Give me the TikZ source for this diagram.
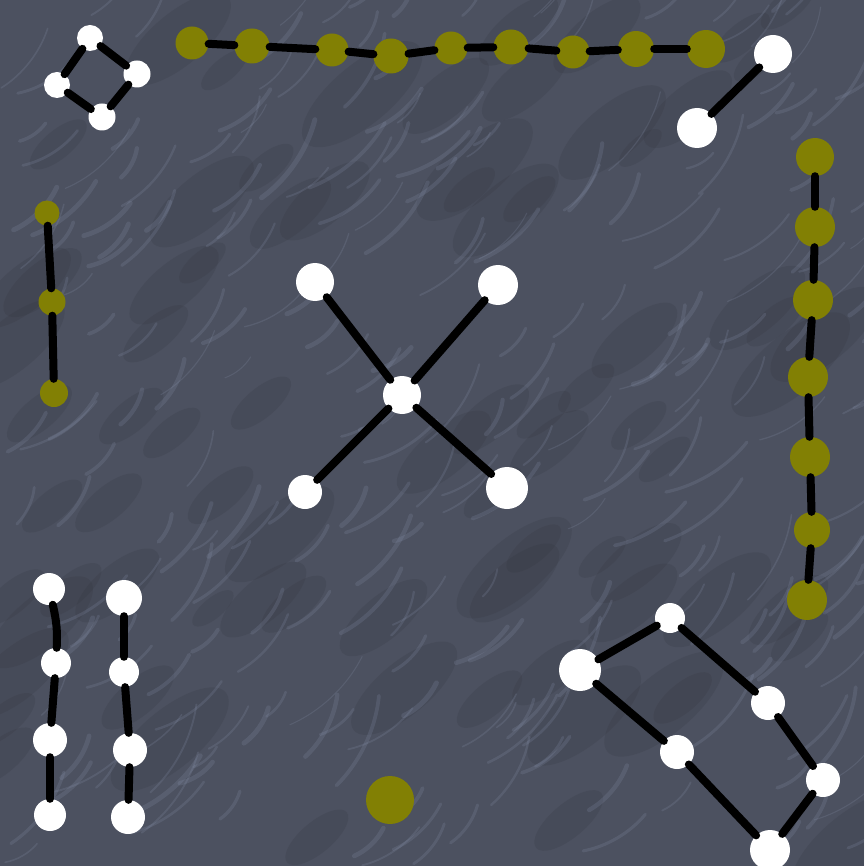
\documentclass[tikz,border=0pt]{standalone}
\definecolor{slate}{RGB}{76,81,96}
\definecolor{streak}{RGB}{155,167,195}
\definecolor{darkpatch}{RGB}{48,50,58}
\definecolor{olivenode}{RGB}{130,128,4}
\tikzset{
  wn/.style={circle,fill=white,inner sep=0pt,minimum size=#1},
  yn/.style={circle,fill=olivenode,inner sep=0pt,minimum size=#1},
  edge/.style={line width=8pt,black,line cap=round}
}
\begin{document}
\begin{tikzpicture}[x=1pt,y=-1pt]
\useasboundingbox (0,0) rectangle (864,866);
\begin{scope}
\clip (0,0) rectangle (864,866);
\fill[slate] (0,0) rectangle (864,866);
\pgfmathsetseed{11}
\foreach \i in {1,...,80}{
  \pgfmathsetmacro{\xa}{864*rnd}
  \pgfmathsetmacro{\ya}{866*rnd}
  \pgfmathsetmacro{\rr}{25+50*rnd}
  \fill[darkpatch,opacity=0.18,rotate around={40:(\xa,\ya)}] (\xa,\ya) ellipse ({\rr} and {0.4*\rr});
}
\foreach \i in {1,...,260}{
  \pgfmathsetmacro{\xa}{864*rnd}
  \pgfmathsetmacro{\ya}{866*rnd}
  \pgfmathsetmacro{\len}{30+70*rnd}
  \pgfmathsetmacro{\ang}{-30-35*rnd}
  \pgfmathsetmacro{\lw}{1+4*rnd}
  \draw[streak,opacity=0.16,line width=\lw pt,line cap=round]
    (\xa,\ya) .. controls ++(\ang+20:\len/3) and ++(\ang-20:-\len/3) .. ++(\ang:\len);
}
\end{scope}

% top-left diamond
\node[wn=26] (d1) at (90,38) {};
\node[wn=27] (d2) at (137,74) {};
\node[wn=26] (d3) at (57,85) {};
\node[wn=27] (d4) at (102,117) {};
\draw[edge] (d1) -- (d2);
\draw[edge] (d1) -- (d3);
\draw[edge] (d3) -- (d4);
\draw[edge] (d4) -- (d2);

% top olive chain
\node[yn=33] (t1) at (192,43) {};
\node[yn=35] (t2) at (252,46) {};
\node[yn=33] (t3) at (332,50) {};
\node[yn=35] (t4) at (391,56) {};
\node[yn=33] (t5) at (451,48) {};
\node[yn=35] (t6) at (511,47) {};
\node[yn=33] (t7) at (573,52) {};
\node[yn=36] (t8) at (636,49) {};
\node[yn=38] (t9) at (706,49) {};
\foreach \a/\b in {t1/t2,t2/t3,t3/t4,t4/t5,t5/t6,t6/t7,t7/t8,t8/t9}
  \draw[edge] (\a) -- (\b);

% top-right pair
\node[wn=38] (p1) at (773,54) {};
\node[wn=40] (p2) at (697,128) {};
\draw[edge] (p1) -- (p2);

% left olive chain
\node[yn=25] (l1) at (47,213) {};
\node[yn=27] (l2) at (52,302) {};
\node[yn=28] (l3) at (54,393) {};
\draw[edge] (l1) -- (l2);
\draw[edge] (l2) -- (l3);

% right olive chain
\node[yn=38] (r1) at (815,157) {};
\node[yn=40] (r2) at (815,227) {};
\node[yn=40] (r3) at (813,300) {};
\node[yn=40] (r4) at (808,377) {};
\node[yn=40] (r5) at (810,457) {};
\node[yn=36] (r6) at (812,530) {};
\node[yn=40] (r7) at (807,600) {};
\foreach \a/\b in {r1/r2,r2/r3,r3/r4,r4/r5,r5/r6,r6/r7}
  \draw[edge] (\a) -- (\b);

% center cross
\node[wn=38] (c0) at (402,395) {};
\node[wn=38] (c1) at (315,282) {};
\node[wn=40] (c2) at (498,285) {};
\node[wn=34] (c3) at (305,492) {};
\node[wn=42] (c4) at (507,488) {};
\draw[edge] (c0) -- (c1);
\draw[edge] (c0) -- (c2);
\draw[edge] (c0) -- (c3);
\draw[edge] (c0) -- (c4);

% bottom-left chains
\node[wn=32] (a1) at (49,589) {};
\node[wn=30] (a2) at (56,663) {};
\node[wn=34] (a3) at (50,740) {};
\node[wn=32] (a4) at (50,815) {};
\draw[edge] (a1) to[bend left=8] (a2);
\draw[edge] (a2) -- (a3);
\draw[edge] (a3) -- (a4);
\node[wn=36] (b1) at (124,598) {};
\node[wn=30] (b2) at (124,672) {};
\node[wn=34] (b3) at (130,750) {};
\node[wn=34] (b4) at (128,817) {};
\draw[edge] (b1) -- (b2);
\draw[edge] (b2) -- (b3);
\draw[edge] (b3) -- (b4);

% lone olive node
\node[yn=48] (solo) at (390,800) {};

% bottom-right hexagon
\node[wn=30] (h1) at (670,618) {};
\node[wn=42] (h2) at (580,670) {};
\node[wn=34] (h3) at (768,703) {};
\node[wn=34] (h4) at (677,752) {};
\node[wn=34] (h5) at (823,780) {};
\node[wn=40] (h6) at (770,850) {};
\draw[edge] (h1) -- (h2);
\draw[edge] (h1) -- (h3);
\draw[edge] (h3) -- (h5);
\draw[edge] (h5) -- (h6);
\draw[edge] (h6) -- (h4);
\draw[edge] (h4) -- (h2);
\end{tikzpicture}
\end{document}
